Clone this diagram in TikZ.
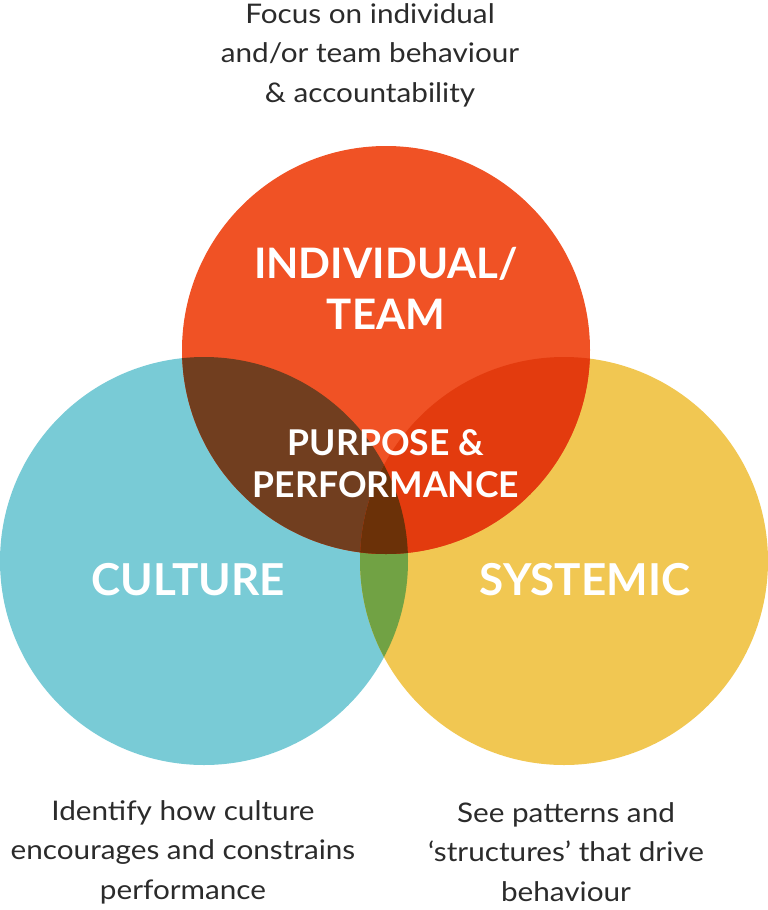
\documentclass[tikz,border=0pt]{standalone}
\usepackage{fontspec}
\setmainfont{Lato}
\newfontfamily\notefont[FakeStretch=1.1]{Lato}
\usepackage{tikz}
\usetikzlibrary{positioning}
\definecolor{culture}{RGB}{121,203,214}
\definecolor{systemic}{RGB}{241,199,82}
\definecolor{team}{RGB}{240,82,37}
\definecolor{teamculture}{RGB}{113,62,31}
\definecolor{teamsystemic}{RGB}{227,59,14}
\definecolor{culturesystemic}{RGB}{113,162,68}
\definecolor{purpose}{RGB}{107,49,8}
\definecolor{ink}{RGB}{43,43,43}

\begin{document}
\begin{tikzpicture}[x=1pt, y=-1pt,
  note/.style={align=center, text=ink, font=\notefont\fontsize{27}{39.5}\selectfont},
  label/.style={align=center, text=white, font=\fontsize{42}{51}\selectfont\bfseries}]
\useasboundingbox (0,0) rectangle (768,910);
\def\rad{204pt}
\coordinate (ind) at (386,350);
\coordinate (cul) at (204,561);
\coordinate (sys) at (564,561);

% circles
\fill[culture] (cul) circle[radius=\rad];
\fill[systemic] (sys) circle[radius=\rad];
\fill[team] (ind) circle[radius=\rad];
% overlaps
\begin{scope}
  \clip (cul) circle[radius=\rad];
  \fill[culturesystemic] (sys) circle[radius=\rad];
\end{scope}
\begin{scope}
  \clip (ind) circle[radius=\rad];
  \fill[teamculture] (cul) circle[radius=\rad];
\end{scope}
\begin{scope}
  \clip (ind) circle[radius=\rad];
  \fill[teamsystemic] (sys) circle[radius=\rad];
\end{scope}
\begin{scope}
  \clip (ind) circle[radius=\rad];
  \clip (cul) circle[radius=\rad];
  \fill[purpose] (sys) circle[radius=\rad];
\end{scope}

% labels
\node (teamlbl) [label] at (386,288) {INDIVIDUAL/\\TEAM};
\node (purplbl) [label, font=\fontsize{35.5}{42}\selectfont\bfseries] at (386,464) {PURPOSE \&\\PERFORMANCE};
\node (cultlbl) [label, font=\fontsize{44}{51}\selectfont\bfseries] at (188,580) {CULTURE};
\node (syslbl) [label, font=\fontsize{44}{51}\selectfont\bfseries] at (585,580) {SYSTEMIC};

% notes
\node (topnote) [note] at (370,55) {Focus on individual\\and/or team behaviour\\\& accountability};
\node (leftnote) [note] at (183,852) {Identify how culture\\encourages and constrains\\performance};
\node (rightnote) [note] at (566,852) {See patterns and\\‘structures’ that drive\\behaviour};
\end{tikzpicture}
\end{document}
